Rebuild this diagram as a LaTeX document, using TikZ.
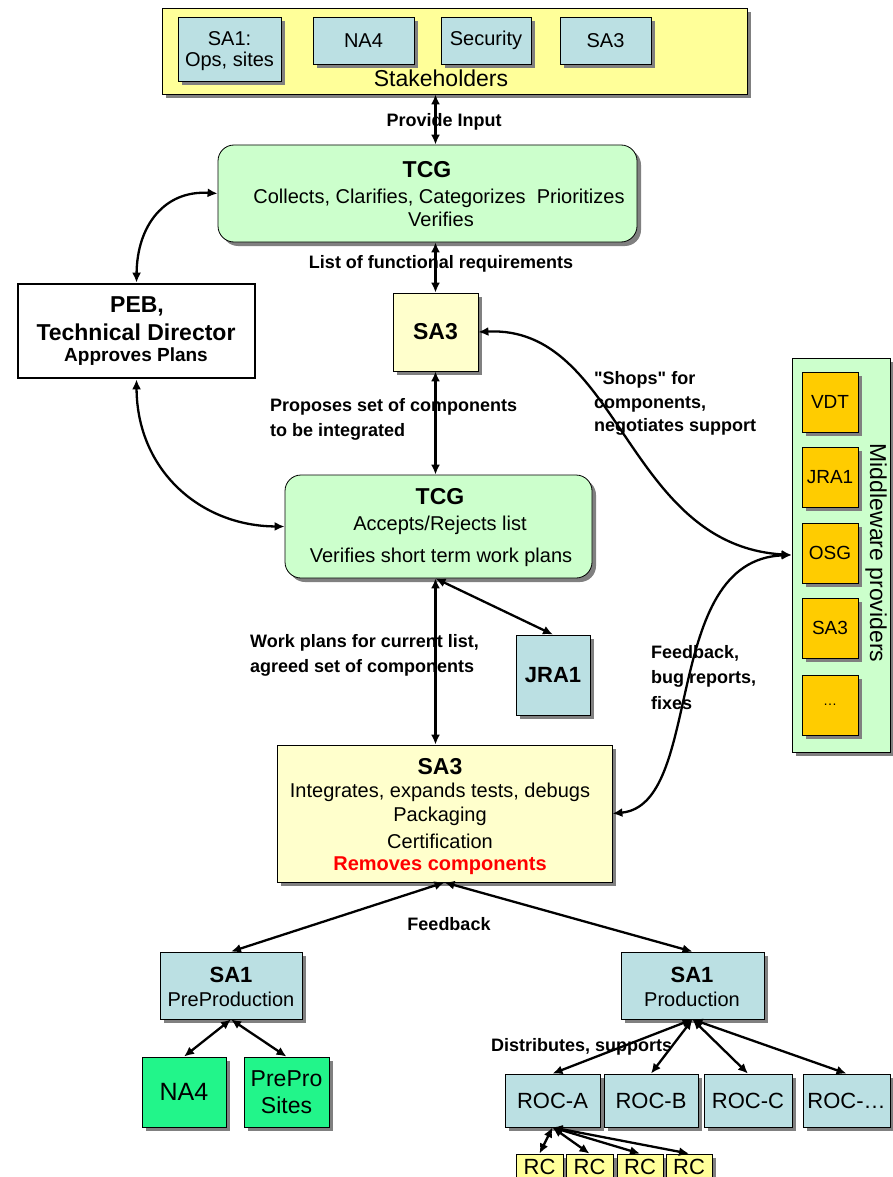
\documentclass[tikz,border=0pt]{standalone}
\usepackage{fontspec}
\setmainfont{Liberation Sans}[Ligatures=TeXOff]
\usetikzlibrary{arrows.meta,shadows,calc}
\definecolor{lblue}{HTML}{BBE0E3}
\definecolor{yel}{HTML}{FFFF99}
\definecolor{pyel}{HTML}{FFFFCC}
\definecolor{lgreen}{HTML}{CCFFCC}
\definecolor{orng}{HTML}{FFCC00}
\definecolor{vgreen}{HTML}{22F58A}
\definecolor{rred}{HTML}{FF0000}
\newcommand{\fz}[2]{\fontsize{#1}{#2}\selectfont}
\begin{document}
\begin{tikzpicture}[x=1pt,y=-1pt,
  box/.style={draw=black, line width=0.8pt, inner sep=0pt, align=center,
    drop shadow={shadow xshift=4pt, shadow yshift=-4pt, fill=black!50, opacity=1}},
  txt/.style={inner sep=0pt, font=\fz{20}{24}},
  ttl/.style={inner sep=0pt, font=\fz{23}{26}\bfseries},
  lbl/.style={inner sep=0pt, align=left, font=\fz{18}{25}\bfseries},
  arr/.style={line width=2.3pt, {Latex[length=10pt,width=9pt]}-{Latex[length=10pt,width=9pt]}}]
\useasboundingbox (0,0) rectangle (892,1177);
\fill[white] (0,0) rectangle (892,1177);

% Stakeholders
\node[box, fill=yel, minimum width=585pt, minimum height=86pt] (stake) at (454.5,51) {};
\node[box, fill=lblue, minimum width=103pt, minimum height=64pt] (s1) at (229.5,49) {};
\node[inner sep=0pt, align=center, font=\fz{20}{21}] (s1t) at (229.5,51) {SA1:\\Ops, sites};
\node[box, fill=lblue, minimum width=101pt, minimum height=47pt, font=\fz{20}{24}] (s2) at (363.5,40.5) {NA4};
\node[box, fill=lblue, minimum width=90pt, minimum height=47pt, font=\fz{20}{24}] (s3) at (486,40.5) {Security};
\node[box, fill=lblue, minimum width=91pt, minimum height=47pt, font=\fz{20}{24}] (s4) at (605.5,40.5) {SA3};
\node[inner sep=0pt, font=\fz{23}{26}] (stk) at (441,78) {Stakeholders};

% TCG 1
\node[box, fill=lgreen, rounded corners=16pt, minimum width=419pt, minimum height=97pt] (tcg1) at (427.5,193.5) {};
\node[ttl] (tcg1a) at (427,170) {TCG};
\node[txt] (tcg1b) at (439,198) {Collects, Clarifies, Categorizes\ \ Prioritizes};
\node[txt] (tcg1c) at (441,219) {Verifies};

% SA3 small
\node[box, fill=pyel, minimum width=85pt, minimum height=78pt, font=\fz{23}{26}\bfseries] (sa3s) at (435.5,332) {SA3};

% PEB
\node[draw=black, line width=2.8pt, fill=white, minimum width=237pt, minimum height=94pt, inner sep=0pt] (peb) at (136.5,331) {};
\node[ttl] (peba) at (137,306) {PEB,};
\node[ttl] (pebb) at (136,332) {Technical Director};
\node[inner sep=0pt, font=\fz{19}{22}\bfseries] (pebc) at (136,357) {Approves Plans};

% TCG 2
\node[box, fill=lgreen, rounded corners=16pt, minimum width=307pt, minimum height=103pt] (tcg2) at (438.5,526.5) {};
\node[ttl] (tcg2a) at (440,497) {TCG};
\node[txt] (tcg2b) at (440,525) {Accepts/Rejects list};
\node[txt] (tcg2c) at (441,557) {Verifies short term work plans};

% JRA1
\node[box, fill=lblue, minimum width=74pt, minimum height=80pt, font=\fz{22}{26}\bfseries] (jra1) at (553,675) {JRA1};

% SA3 big
\node[box, fill=pyel, minimum width=335pt, minimum height=137pt] (sa3b) at (444.5,813.5) {};
\node[ttl] (sa3ba) at (440,767) {SA3};
\node[txt] (sa3bb) at (440,792) {Integrates, expands tests, debugs};
\node[txt] (sa3bc) at (440,816) {Packaging};
\node[txt] (sa3bd) at (440,841) {Certification};
\node[inner sep=0pt, font=\fz{20}{24}\bfseries, text=rred] (sa3be) at (440,866) {Removes components};

% Middleware providers
\node[box, fill=lgreen, minimum width=98pt, minimum height=394pt] (mw) at (841,555) {};
\node[box, fill=orng, minimum width=56pt, minimum height=60pt, font=\fz{19}{22}] (m1) at (830,402) {VDT};
\node[box, fill=orng, minimum width=56pt, minimum height=60pt, font=\fz{19}{22}] (m2) at (830,477) {JRA1};
\node[box, fill=orng, minimum width=56pt, minimum height=60pt, font=\fz{19}{22}] (m3) at (830,553) {OSG};
\node[box, fill=orng, minimum width=56pt, minimum height=60pt, font=\fz{19}{22}] (m4) at (830,628) {SA3};
\node[box, fill=orng, minimum width=56pt, minimum height=60pt, font=\fz{14}{16}] (m5) at (830,705) {\dots};
\node[inner sep=0pt, font=\fz{23}{26}, rotate=-90] (mwt) at (876,553) {Middleware providers};

% SA1 boxes
\node[box, fill=lblue, minimum width=142pt, minimum height=67pt] (sa1pp) at (231,985.5) {};
\node[inner sep=0pt, font=\fz{22}{26}\bfseries] (sa1ppa) at (231,975) {SA1};
\node[txt] (sa1ppb) at (231,999) {PreProduction};
\node[box, fill=lblue, minimum width=143pt, minimum height=67pt] (sa1p) at (692.5,985.5) {};
\node[inner sep=0pt, font=\fz{22}{26}\bfseries] (sa1pa) at (692,975) {SA1};
\node[txt] (sa1pb) at (692,999) {Production};

% Green boxes
\node[box, fill=vgreen, minimum width=84pt, minimum height=70pt, font=\fz{25}{28}] (na4) at (184,1092) {NA4};
\node[box, fill=vgreen, minimum width=85pt, minimum height=70pt, font=\fz{23}{27}] (pps) at (286.5,1092) {PrePro\\Sites};

% ROC boxes
\node[box, fill=lblue, minimum width=95pt, minimum height=53pt, font=\fz{22}{26}] (roca) at (552.5,1100.5) {ROC-A};
\node[box, fill=lblue, minimum width=94pt, minimum height=53pt, font=\fz{22}{26}] (rocb) at (651,1100.5) {ROC-B};
\node[box, fill=lblue, minimum width=88pt, minimum height=53pt, font=\fz{22}{26}] (rocc) at (748,1100.5) {ROC-C};
\node[box, fill=lblue, minimum width=87pt, minimum height=53pt, font=\fz{22}{26}] (rocd) at (846.5,1100.5) {ROC-\dots};

% RC boxes
\node[box, fill=yel, minimum width=47pt, minimum height=26pt, font=\fz{22}{24}] (rc1) at (539.5,1167) {RC};
\node[box, fill=yel, minimum width=47pt, minimum height=26pt, font=\fz{22}{24}] (rc2) at (589.5,1167) {RC};
\node[box, fill=yel, minimum width=46pt, minimum height=26pt, font=\fz{22}{24}] (rc3) at (640,1167) {RC};
\node[box, fill=yel, minimum width=46pt, minimum height=26pt, font=\fz{22}{24}] (rc4) at (689,1167) {RC};

% Connectors
\draw[arr] (stake.south -| sa3s.center) -- (tcg1.north -| sa3s.center);
\draw[arr] (tcg1.south -| sa3s.center) -- (sa3s.north);
\draw[arr] (sa3s.south) -- (tcg2.north -| sa3s.center);
\draw[arr] (tcg2.south -| sa3s.center) -- (sa3b.north -| sa3s.center);
\draw[arr] (tcg2.south -| sa3s.center) -- (jra1.north);
\draw[arr] (peb.north) .. controls (137,225) and (165,190) .. (tcg1.west);
\draw[arr] (peb.south) .. controls (137,470) and (200,526) .. (tcg2.west);
\draw[arr] (sa3s.east) .. controls (620,325) and (625,545) .. (mw.west);
\draw[arr] (sa3b.east) .. controls (705,805) and (660,560) .. (mw.west);
\draw[arr] (sa3b.south) -- (sa1pp.north);
\draw[arr] (sa3b.south) -- (sa1p.north);
\draw[arr] (sa1pp.south) -- (na4.north);
\draw[arr] (sa1pp.south) -- (pps.north);
\draw[arr] (sa1p.south) -- (roca.north);
\draw[arr] (sa1p.south) -- (rocb.north);
\draw[arr] (sa1p.south) -- (rocc.north);
\draw[arr] (sa1p.south) -- (rocd.north);
\draw[arr] (roca.south) -- (rc1.north);
\draw[arr] (roca.south) -- (rc2.north);
\draw[arr] (roca.south) -- (rc3.north);
\draw[arr] (roca.south) -- (rc4.north);

% Labels
\node[lbl] (l1) at (444,122) {Provide Input};
\node[lbl] (l2) at (441,264) {List of functional requirements};
\node[lbl, anchor=west] (l3) at (270,419.5) {Proposes set of components\\to be integrated};
\node[lbl, anchor=west, font=\fz{18}{23.5}\bfseries] (l4) at (594,403.5) {"Shops" for\\components,\\negotiates support};
\node[lbl, anchor=west] (l5) at (250,655.5) {Work plans for current list,\\agreed set of components};
\node[lbl, anchor=west, font=\fz{18}{25.5}\bfseries] (l6) at (651,677.5) {Feedback,\\bug reports,\\fixes};
\node[lbl] (l7) at (449,924) {Feedback};
\node[lbl, anchor=west] (l8) at (491,1047) {Distributes, supports};
\end{tikzpicture}
\end{document}
